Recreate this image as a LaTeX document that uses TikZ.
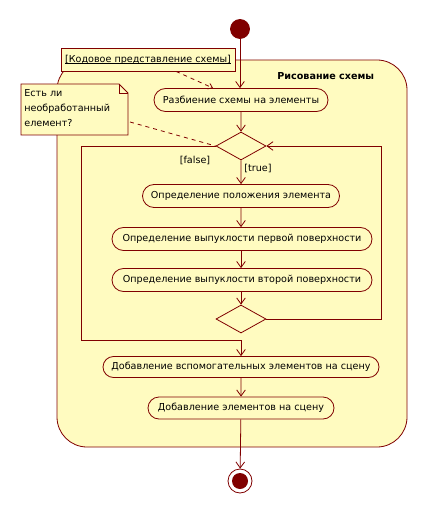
\documentclass[tikz,border=0pt]{standalone}
\usepackage{fontspec}
\setmainfont{DejaVu Sans}
\usetikzlibrary{arrows.meta,shapes.geometric,shapes.misc}
\definecolor{dr}{HTML}{800000}
\definecolor{yl}{HTML}{FFFBC0}
\newcommand\myul[1]{\setbox0=\hbox{#1}\rlap{\rule[-1.3pt]{\wd0}{0.45pt}}\box0}
\begin{document}
\begin{tikzpicture}[x=0.75pt,y=-0.75pt,
  font=\fontsize{7.2}{10}\selectfont,
  line width=0.6pt,
  arr/.style={draw=dr,-{Straight Barb[length=4.5pt,width=6.5pt]}},
  act/.style={rounded rectangle, draw=dr, fill=yl, inner sep=0pt, minimum width=#1*0.75pt, minimum height=17.25pt},
  dec/.style={diamond, draw=dr, fill=yl, inner sep=0pt, minimum width=37.5pt, minimum height=21pt},
  lbl/.style={inner sep=1pt, text=black},
  notebox/.style={draw=dr, fill=yl, inner sep=0pt}]
\useasboundingbox[fill=white] (0,0) rectangle (428,513);
% region
\draw[dr, fill=yl, rounded corners=22.5pt] (57,60) rectangle (407,447);
\node[anchor=east, font=\fontsize{7.2}{10}\selectfont\bfseries] (title) at (379,76) {Рисование схемы};
% nodes
\node[circle, fill=dr, draw=dr, minimum size=14.25pt, inner sep=0pt] (start) at (240,29) {};
\node[act=174] (a1) at (241,100) {Разбиение схемы на элементы};
\node[dec] (d1) at (241,146) {};
\node[act=197] (a2) at (241,196) {Определение положения элемента};
\node[act=260] (a3) at (242,239) {Определение выпуклости первой поверхности};
\node[act=260] (a4) at (242,280) {Определение выпуклости второй поверхности};
\node[dec] (d2) at (241,319) {};
\node[act=276, minimum height=15.75pt] (a5) at (241,367) {Добавление вспомогательных элементов на сцену};
\node[act=186, minimum height=16.5pt] (a6) at (241,408) {Добавление элементов на сцену};
\node[circle, draw=dr, fill=white, minimum size=18pt, inner sep=0pt,
  path picture={\fill[dr] (path picture bounding box.center) circle (6pt);}] (end) at (240,481) {};
% flows
\draw[arr] (start) -- (a1.north -| start);
\draw[arr] (a1) -- (d1);
\draw[arr] (d1) -- (a2);
\draw[arr] (a2) -- (a3.north -| a2);
\draw[arr] (a3.south -| a2) -- (a4.north -| a2);
\draw[arr] (a4.south -| d2) -- (d2);
\coordinate (fl1) at (81,146);
\coordinate (fl2) at (81,340);
\coordinate (fl3) at (241,340);
\draw[arr] (d1.west) -- (fl1) -- (fl2) -- (fl3) -- (a5.north -| fl3);
\coordinate (rt1) at (381,319);
\coordinate (rt2) at (381,146);
\draw[arr] (d2.east) -- (rt1) -- (rt2) -- (d1.east);
\draw[arr] (a5) -- (a6);
\draw[arr] (a6) -- (end);
\node[lbl] (lf) at (195,160) {[false]};
\node[lbl] (lt) at (258,168) {[true]};
% object note
\node[notebox, minimum width=130.5pt, minimum height=17.25pt] (obj) at (148,59.5) {\myul{[Кодовое представление схемы]}};
\draw[dr, dashed, -{Straight Barb[length=3pt,width=4.5pt]}] ([xshift=21pt]obj.south) -- ([xshift=-21pt]a1.north);
% question note
\draw[dr, fill=yl] (21,84) -- (119,84) -- (128,93) -- (128,135) -- (21,135) -- cycle;
\draw[dr] (119,84) -- (119,93) -- (128,93);
\node[anchor=north west, align=left, inner sep=0pt, font=\fontsize{7.2}{11.25}\selectfont] (q) at (24,89) {Есть ли\\необработанный\\елемент?};
\coordinate (qe) at (130,122);
\draw[dr, dashed] (qe) -- (d1.west);
\end{tikzpicture}
\end{document}
